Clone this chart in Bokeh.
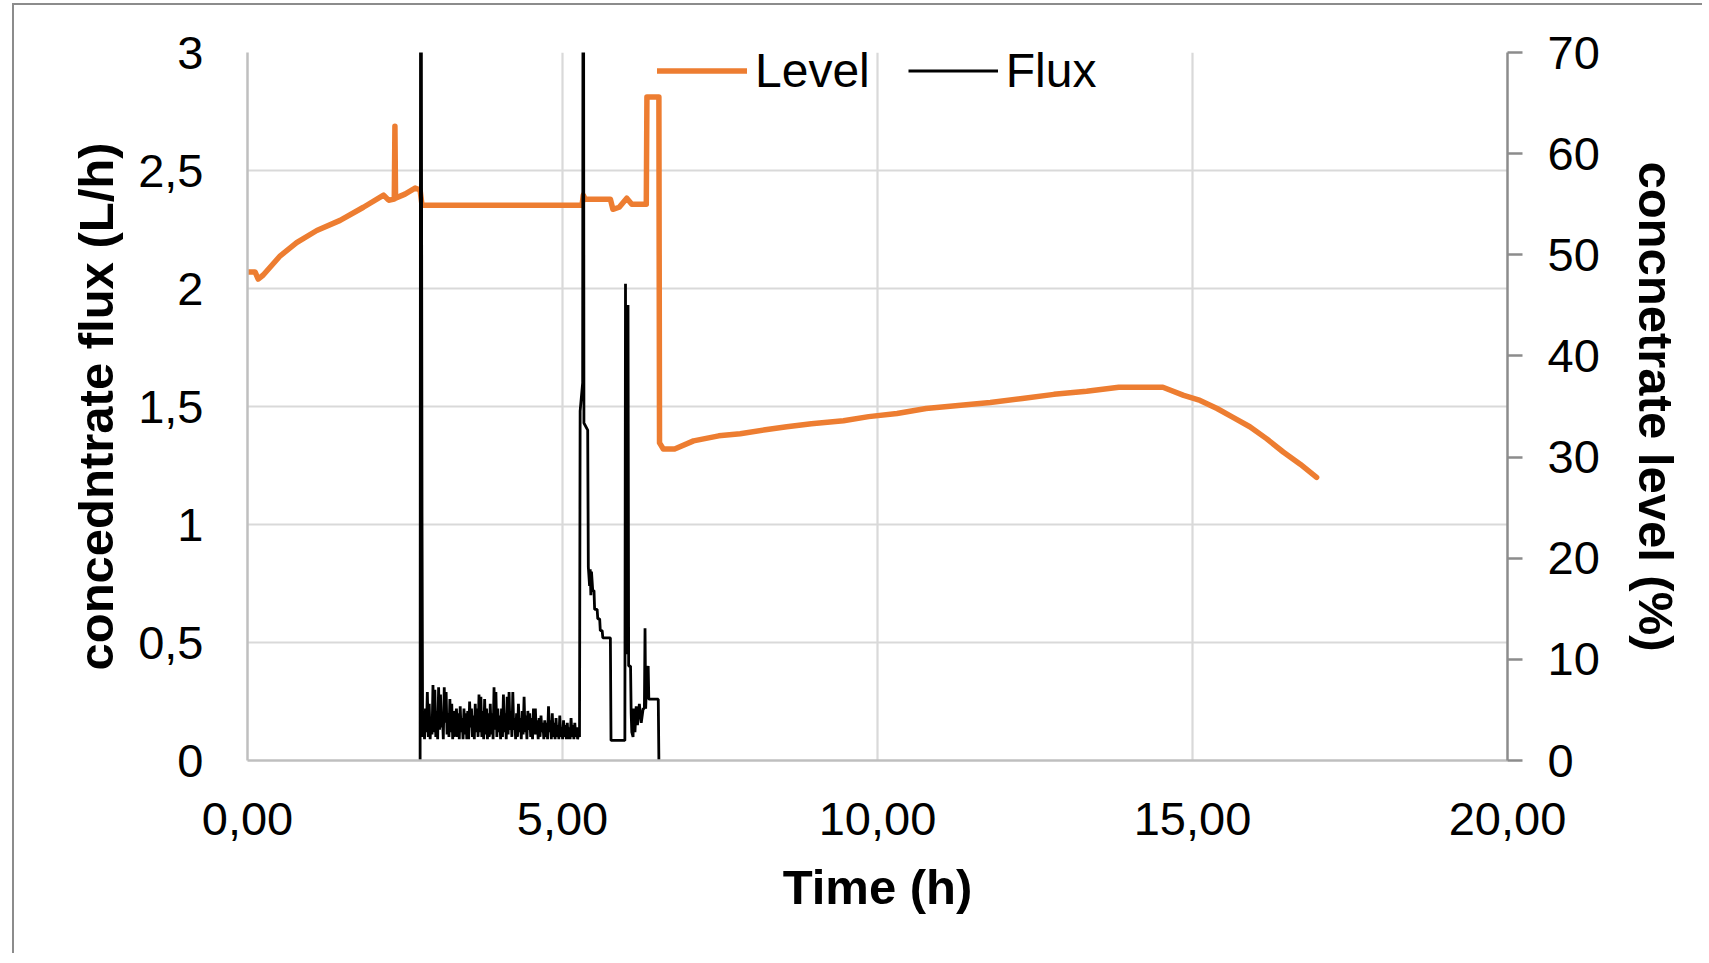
import numpy as np
from bokeh.plotting import figure
from bokeh.models import Range1d, LinearAxis, Legend, LegendItem, FixedTicker
from bokeh.embed import file_html
from bokeh.resources import INLINE

# ---------------- data ----------------
x_ticks = [0, 5, 10, 15, 20]
x_tick_labels = ["0,00", "5,00", "10,00", "15,00", "20,00"]
flux_ticks = [0, 0.5, 1, 1.5, 2, 2.5, 3]
flux_tick_labels = ["0", "0,5", "1", "1,5", "2", "2,5", "3"]
level_ticks = [0, 10, 20, 30, 40, 50, 60, 70]
level_tick_labels = ["0", "10", "20", "30", "40", "50", "60", "70"]

level_t = [0.00, 0.12, 0.17, 0.25, 0.52, 0.78, 1.10, 1.47, 1.84, 2.16, 2.24, 2.33,
           2.34, 2.35, 2.50, 2.66, 2.74, 2.77, 5.31, 5.33, 5.36, 5.76, 5.80, 5.90,
           6.02, 6.10, 6.33, 6.34, 6.53, 6.54, 6.60, 6.78, 7.08, 7.48, 7.82, 8.22,
           8.56, 8.95, 9.46, 9.86, 10.31, 10.77, 11.28, 11.79, 12.30, 12.80, 13.32,
           13.83, 14.53, 14.86, 15.12, 15.39, 15.65, 15.91, 16.18, 16.44, 16.71, 16.97]
level_v = [48.3, 48.3, 47.6, 48.0, 49.9, 51.2, 52.4, 53.4, 54.7, 55.9, 55.4, 55.5,
           62.7, 55.6, 56.0, 56.6, 56.4, 54.9, 54.9, 55.9, 55.5, 55.5, 54.5, 54.7,
           55.6, 55.0, 55.0, 65.6, 65.6, 31.4, 30.8, 30.8, 31.6, 32.1, 32.3, 32.7,
           33.0, 33.3, 33.6, 34.0, 34.3, 34.8, 35.1, 35.4, 35.8, 36.2, 36.5,
           36.9, 36.9, 36.1, 35.6, 34.8, 33.9, 33.0, 31.8, 30.5, 29.3, 28.0]

# flux: start-up spike
flux_start_t = [2.74, 2.75, 2.77]
flux_start_v = [0.0, 5.0, 1.05]
# flux: noisy low period (sampled evenly between 2.78 h and 5.27 h)
flux_noise_v = [0.10, 0.20, 0.09, 0.22, 0.12, 0.29, 0.10, 0.24, 0.09, 0.18, 0.11, 0.32,
                0.12, 0.30, 0.10, 0.21, 0.09, 0.31, 0.13, 0.28, 0.14, 0.20, 0.09, 0.31,
                0.16, 0.29, 0.11, 0.20, 0.10, 0.26, 0.12, 0.24, 0.09, 0.21, 0.10, 0.19,
                0.22, 0.10, 0.20, 0.09, 0.23, 0.12, 0.18, 0.09, 0.22, 0.11, 0.20, 0.09,
                0.21, 0.09, 0.25, 0.14, 0.22, 0.10, 0.19, 0.09, 0.24, 0.12, 0.22, 0.10,
                0.28, 0.12, 0.27, 0.10, 0.21, 0.09, 0.26, 0.11, 0.22, 0.09, 0.20, 0.10,
                0.24, 0.11, 0.20, 0.09, 0.31, 0.13, 0.29, 0.10, 0.22, 0.12, 0.19, 0.09,
                0.22, 0.10, 0.28, 0.12, 0.20, 0.09, 0.27, 0.11, 0.29, 0.13, 0.21, 0.10,
                0.29, 0.13, 0.18, 0.09, 0.20, 0.10, 0.24, 0.12, 0.18, 0.09, 0.21, 0.11,
                0.27, 0.12, 0.19, 0.09, 0.21, 0.13, 0.20, 0.10, 0.18, 0.09, 0.22, 0.11,
                0.22, 0.11, 0.17, 0.09, 0.18, 0.10, 0.19, 0.12, 0.16, 0.09, 0.17, 0.10,
                0.16, 0.09, 0.23, 0.12, 0.17, 0.09, 0.20, 0.10, 0.16, 0.09, 0.18, 0.10,
                0.15, 0.09, 0.19, 0.10, 0.14, 0.09, 0.17, 0.10, 0.15, 0.09, 0.16, 0.09,
                0.14, 0.09, 0.18, 0.10, 0.15, 0.09, 0.16, 0.10, 0.14, 0.09, 0.12, 0.10]
flux_noise_t = list(np.linspace(2.78, 5.27, len(flux_noise_v)))
# flux: end of run
flux_end_t = [5.28, 5.32, 5.33, 5.34, 5.40, 5.41, 5.43, 5.44, 5.45, 5.46, 5.48, 5.50,
              5.51, 5.55, 5.56, 5.59, 5.60, 5.63, 5.64, 5.76, 5.77, 5.99, 6.00, 6.01,
              6.02, 6.03, 6.04, 6.05, 6.08, 6.09, 6.10, 6.12, 6.13, 6.15, 6.17, 6.19,
              6.22, 6.25, 6.28, 6.30, 6.31, 6.32, 6.34, 6.36, 6.37, 6.52, 6.53]
flux_end_v = [1.48, 1.60, 5.0, 1.43, 1.40, 0.82, 0.74, 0.81, 0.70, 0.80, 0.72, 0.72,
              0.64, 0.64, 0.60, 0.60, 0.55, 0.55, 0.52, 0.52, 0.085, 0.085, 2.02, 0.50,
              1.93, 0.45, 1.93, 0.40, 0.40, 0.20, 0.12, 0.10, 0.22, 0.12, 0.23, 0.15,
              0.24, 0.16, 0.22, 0.22, 0.56, 0.22, 0.38, 0.40, 0.26, 0.26, 0.0]

flux_t = flux_start_t + flux_noise_t + flux_end_t
flux_v = flux_start_v + flux_noise_v + flux_end_v

# ---------------- figure ----------------
ORANGE = "#ED7D31"
GRID = "#d9d9d9"
FONT = "Liberation Sans"

p = figure(width=1690, height=950, output_backend="svg", toolbar_location=None,
           x_range=Range1d(0, 20), y_range=Range1d(0, 3),
           min_border_left=233, min_border_right=197, min_border_top=47,
           min_border_bottom=195, outline_line_color=None)
p.styles = {"border-left": "2px solid #8c8c8c", "border-top": "2px solid #8c8c8c",
            "margin-left": "12px", "margin-top": "3px"}
p.extra_y_ranges = {"level": Range1d(0, 70)}

r_level = p.line(level_t, level_v, y_range_name="level", line_color=ORANGE,
                 line_width=5.5, line_join="round", line_cap="round")
r_flux = p.line(flux_t, flux_v, line_color="black", line_width=2.8)

# axes
for ax in (p.xaxis[0], p.yaxis[0]):
    ax.axis_line_color = "#bfbfbf"
    ax.axis_line_width = 2.5
    ax.major_tick_line_color = None
    ax.minor_tick_line_color = None
    ax.major_tick_out = 0
    ax.major_tick_in = 0
    ax.major_label_text_font = FONT
    ax.major_label_text_font_size = "47px"
    ax.major_label_text_color = "black"
    ax.axis_label_text_font = FONT
    ax.axis_label_text_font_style = "bold"
    ax.axis_label_text_font_size = "49px"
    ax.axis_label_text_color = "black"

p.xaxis[0].ticker = FixedTicker(ticks=x_ticks)
p.xaxis[0].major_label_overrides = dict(zip(x_ticks, x_tick_labels))
p.xaxis[0].axis_label = "Time (h)"
p.xaxis[0].major_label_standoff = 42
p.xaxis[0].axis_label_standoff = 22

p.yaxis[0].ticker = FixedTicker(ticks=flux_ticks)
p.yaxis[0].major_label_overrides = dict(zip(flux_ticks, flux_tick_labels))
p.yaxis[0].axis_label = "concedntrate flux (L/h)"
p.yaxis[0].major_label_standoff = 44
p.yaxis[0].axis_label_standoff = 12

ax2 = LinearAxis(y_range_name="level", ticker=FixedTicker(ticks=level_ticks),
                 axis_label="concnetrate level (%)")
ax2.major_label_overrides = dict(zip(level_ticks, level_tick_labels))
ax2.axis_line_color = "#8c8c8c"
ax2.axis_line_width = 2.5
ax2.major_tick_line_color = "#8c8c8c"
ax2.major_tick_line_width = 2.5
ax2.major_tick_out = 15
ax2.major_tick_in = 0
ax2.minor_tick_line_color = None
ax2.major_label_standoff = 25
ax2.major_label_text_font = FONT
ax2.major_label_text_font_size = "47px"
ax2.major_label_text_color = "black"
ax2.axis_label_text_font = FONT
ax2.axis_label_text_font_style = "bold"
ax2.axis_label_text_font_size = "49px"
ax2.axis_label_text_color = "black"
ax2.axis_label_standoff = 26
p.add_layout(ax2, "right")

# grids
p.xgrid.ticker = FixedTicker(ticks=x_ticks)
p.ygrid.ticker = FixedTicker(ticks=flux_ticks)
p.xgrid.grid_line_color = GRID
p.ygrid.grid_line_color = GRID
p.xgrid.grid_line_width = 2.2
p.ygrid.grid_line_width = 2.2

# legend
legend = Legend(items=[LegendItem(label="Level", renderers=[r_level]),
                       LegendItem(label="Flux", renderers=[r_flux])],
                orientation="horizontal", location=(410, 662),
                glyph_width=90, glyph_height=55, label_height=55,
                label_standoff=8, spacing=38,
                padding=0, margin=0, border_line_alpha=0, background_fill_alpha=0,
                label_text_font=FONT, label_text_font_size="48px",
                label_text_color="black")
p.add_layout(legend)

open("out.html", "w").write(file_html(p, INLINE))
